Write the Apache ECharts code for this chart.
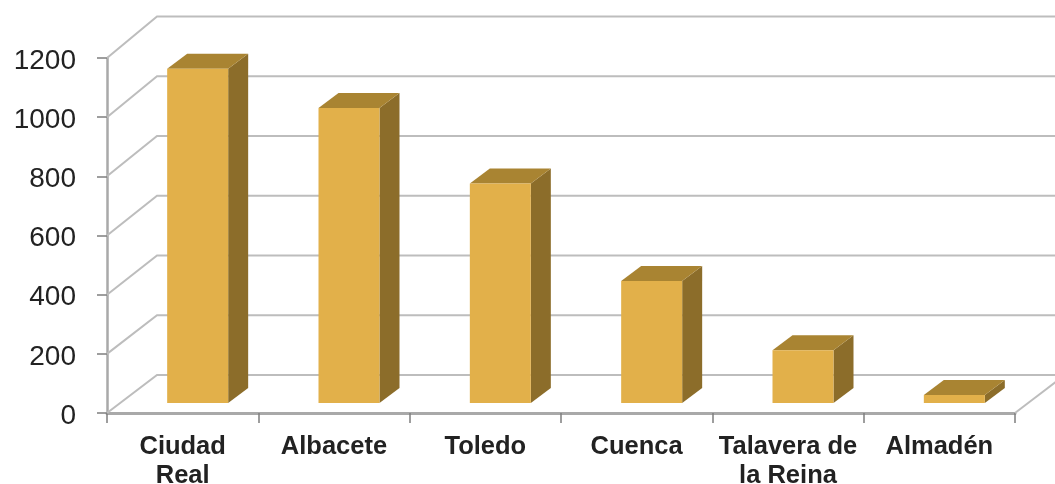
<!DOCTYPE html>
<html>
<head>
<meta charset="utf-8">
<script src="https://cdn.jsdelivr.net/npm/echarts@6/dist/echarts.min.js"></script>
<style>
html,body{margin:0;padding:0;background:#fff;}
#c{width:1055px;height:484px;filter:blur(0.6px);}
</style>
</head>
<body>
<div id="c"></div>
<script>
const categories = ['Ciudad\nReal', 'Albacete', 'Toledo', 'Cuenca', 'Talavera de\nla Reina', 'Almadén'];
const values = [1130, 997, 742, 412, 178, 27];
const yTicks = [0, 200, 400, 600, 800, 1000, 1200];

const wallDx = 50, wallDyBase = 38, wallDySlope = 3.5;
const barDx = 20, barDy = 15, barShiftX = 15, barShiftY = 10, barWidth = 61;
const faceColor = '#E2B04A', sideColor = '#8C6D2A', topColor = '#A98432';
const gridColor = '#BDBDBD', axisColor = '#A9A9A9', textColor = '#222';

const chart = echarts.init(document.getElementById('c'));

function renderWall(params, api) {
  const tick = api.value(1);
  const cs = params.coordSys;
  const y = api.coord([0, tick])[1];
  const dy = wallDyBase + wallDySlope * tick / 1200;
  const kids = [{
    type: 'polyline',
    shape: { points: [[cs.x, y], [cs.x + wallDx, y - dy], [1055, y - dy]] },
    style: { stroke: gridColor, lineWidth: 2, fill: null }
  }];
  if (tick === 0) {
    kids.push({
      type: 'line',
      shape: { x1: cs.x + cs.width, y1: y, x2: cs.x + cs.width + wallDx, y2: y - dy },
      style: { stroke: gridColor, lineWidth: 2 }
    });
  }
  return { type: 'group', children: kids };
}

function renderBar(params, api) {
  const top = api.coord([api.value(0), api.value(1)]);
  const base = api.coord([api.value(0), 0]);
  const l = top[0] + barShiftX - barWidth / 2;
  const r = l + barWidth;
  const t = top[1] - barShiftY;
  const b = base[1] - barShiftY;
  return {
    type: 'group',
    children: [
      { type: 'polygon', shape: { points: [[r, t], [r + barDx, t - barDy], [r + barDx, b - barDy], [r, b]] }, style: { fill: sideColor } },
      { type: 'polygon', shape: { points: [[l, t], [l + barDx, t - barDy], [r + barDx, t - barDy], [r, t]] }, style: { fill: topColor } },
      { type: 'rect', shape: { x: l, y: t, width: barWidth, height: b - t }, style: { fill: faceColor } }
    ]
  };
}

chart.setOption({
  animation: false,
  backgroundColor: '#fff',
  grid: { left: 107, top: 58, width: 908, height: 355, containLabel: false, outerBoundsMode: 'none' },
  xAxis: {
    type: 'category',
    data: categories,
    boundaryGap: true,
    axisLine: { show: true, lineStyle: { color: axisColor, width: 3 } },
    axisTick: { show: true, alignWithLabel: false, length: 10, lineStyle: { color: '#7F7F7F', width: 1.5 } },
    axisLabel: { color: textColor, fontFamily: 'Liberation Sans', fontSize: 25.5, lineHeight: 29.5, fontWeight: 'bold', margin: 19, interval: 0, hideOverlap: false },
    splitLine: { show: false }
  },
  yAxis: {
    type: 'value',
    min: 0,
    max: 1200,
    interval: 200,
    axisLine: { show: true, lineStyle: { color: axisColor, width: 2.5 } },
    axisTick: { show: true, length: 10, lineStyle: { color: '#7F7F7F', width: 1.5 } },
    axisLabel: { color: textColor, fontFamily: 'Liberation Sans', fontSize: 28, margin: 31, verticalAlign: 'top', lineHeight: 6, formatter: v => String(v) },
    splitLine: { show: false }
  },
  series: [
    {
      type: 'custom',
      clip: false,
      z: 1,
      silent: true,
      renderItem: renderWall,
      encode: { x: 0, y: 1 },
      data: yTicks.map(t => [0, t])
    },
    {
      type: 'custom',
      clip: false,
      z: 3,
      renderItem: renderBar,
      encode: { x: 0, y: 1 },
      data: values.map((v, i) => [i, v])
    }
  ]
});
</script>
</body>
</html>
